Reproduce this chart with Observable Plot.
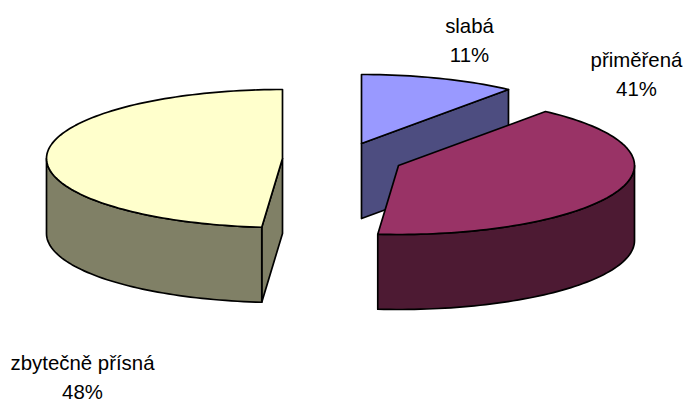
<!DOCTYPE html>
<html>
<head>
<meta charset="utf-8">
<script src="https://cdn.jsdelivr.net/npm/d3@7"></script>
<script src="https://cdn.jsdelivr.net/npm/@observablehq/plot@0.6"></script>
<style>html,body{margin:0;padding:0;background:#fff;overflow:hidden}svg{display:block}</style>
</head>
<body>
<div id="chart"></div>
<script>
const categories = ["slabá", "přiměřená", "zbytečně přísná"];
const percentLabels = [11, 41, 48];
const shares = [10.7, 40.7, 48.6];
const topColors = ["#9999ff", "#993366", "#ffffcc"];
const sideColors = ["#4d4d80", "#4d1a33", "#808066"];

// Projection of the exploded, tilted pie (layout, not data)
const centers = [[361, 143], [398, 165], [282, 158]];
const labelAt = [[469, 38], [636, 72], [82, 374.5]];
const RX = 236, RY = 69, DEPTH = 75;

let cum = 0;
const slices = categories.map((name, i) => {
  const a0 = cum * 3.6; cum += shares[i]; const a1 = cum * 3.6;
  return {name, i, a0, a1, pct: percentLabels[i], cx: centers[i][0], cy: centers[i][1]};
});
const pt = (s, a, dz = 0) => {
  const r = a * Math.PI / 180;
  return {x: s.cx + RX * Math.sin(r), y: s.cy - RY * Math.cos(r) + dz};
};
const arc = (s, a0, a1, dz = 0) => {
  const n = Math.max(2, Math.ceil(Math.abs(a1 - a0) / 1.5));
  return d3.range(n + 1).map(k => pt(s, a0 + (a1 - a0) * k / n, dz));
};
const close = p => [...p, p[0]];
const topFace = s => close([{x: s.cx, y: s.cy}, ...arc(s, s.a0, s.a1)]);
const outerFace = (s, a0, a1) => close([...arc(s, a0, a1), ...arc(s, a1, a0, DEPTH)]);
const radialFace = (s, a) => close([{x: s.cx, y: s.cy}, pt(s, a), pt(s, a, DEPTH), {x: s.cx, y: s.cy + DEPTH}]);

const [blue, maroon, yellow] = slices;
const face = (points, fill) => Plot.line(points, {
  x: "x", y: "y", fill, stroke: "black", strokeWidth: 1.7,
  strokeLinejoin: "round", curve: "linear"
});

const chart = Plot.plot({
  width: 684, height: 400,
  margin: 0,
  x: {domain: [0, 684], range: [0, 684], axis: null},
  y: {domain: [0, 400], range: [0, 400], axis: null},
  style: {background: "#fff"},
  marks: [
    face(radialFace(blue, blue.a1), sideColors[0]),
    face(topFace(blue), topColors[0]),
    face(radialFace(yellow, yellow.a0), sideColors[2]),
    face(outerFace(yellow, yellow.a0, 270), sideColors[2]),
    face(topFace(yellow), topColors[2]),
    face(outerFace(maroon, 90, maroon.a1), sideColors[1]),
    face(topFace(maroon), topColors[1]),
    Plot.text(slices, {
      x: d => labelAt[d.i][0],
      y: d => labelAt[d.i][1],
      text: d => `${d.name}\n${d.pct}%`,
      textAnchor: "middle",
      lineAnchor: "middle",
      lineHeight: 1.43,
      fontSize: 20.4,
      fontFamily: "Liberation Sans, Arial, sans-serif",
      fill: "black"
    })
  ]
});
document.getElementById("chart").append(chart);
</script>
</body>
</html>
